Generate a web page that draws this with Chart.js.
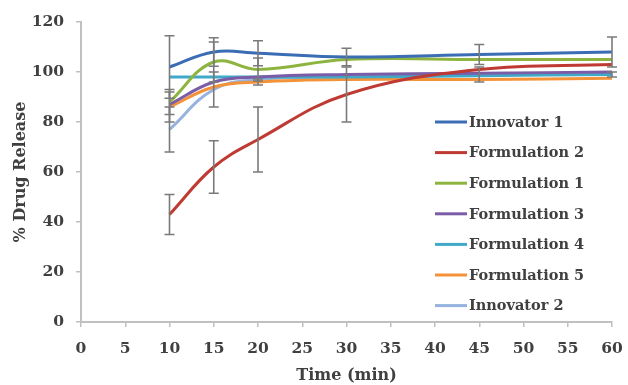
<!DOCTYPE html>
<html>
<head>
<meta charset="utf-8">
<script src="https://cdn.jsdelivr.net/npm/chart.js@4.4.1/dist/chart.umd.min.js"></script>
<style>
  html, body { margin: 0; padding: 0; background: #fff; }
  #wrap { width: 628px; height: 385px; }
</style>
</head>
<body>
<div id="wrap"><canvas id="release" width="628" height="385"></canvas></div>
<script>
// time points (min)
const times = [10, 15, 20, 30, 45, 60];

// % drug release
const innovator1   = [102, 108, 107.5, 106, 107, 108];
const formulation2 = [43, 62, 73, 91, 101, 103];
const formulation1 = [88, 104, 101, 105, 105, 105];
const formulation3 = [87, 96, 98, 99, 99.5, 100];
const formulation4 = [98, 98, 98, 98, 98.5, 99];
const formulation5 = [86, 94, 96, 97, 97, 97.5];
const innovator2   = [77, 93, 97, 98, 99, 99];

// error bars (+/-)
const innovator1Err   = [12.5, 5.7, 5, 3.5, 4, 6];
const formulation2Err = [8, 10.5, 13, 11, 0, 0];
const formulation1Err = [5, 8, 4.6, 0, 0, 0];
const formulation5Err = [6, 0, 1.2, 0, 0, 0];
const innovator2Err   = [9, 7, 0, 0, 3, 1];

const xTicks = [0, 60, 5];
const yTicks = [0, 120, 20];

const textCol = '#404040';
const axisCol = '#c0c0c0';
const tickFont = { family: 'DejaVu Serif', size: 15.5, weight: 'bold' };
const titleFont = { family: 'DejaVu Serif', size: 16, weight: 'bold' };

function series(label, vals, color, errs) {
  return {
    label: label,
    data: vals.map((v, i) => ({ x: times[i], y: v })),
    errors: errs || null,
    borderColor: color,
    backgroundColor: color,
    borderWidth: 3,
    pointRadius: 0,
    tension: 0.4,
    fill: false
  };
}

// draws the vertical error bars with caps
const errorBars = {
  id: 'errorBars',
  afterDatasetsDraw(chart) {
    const ctx = chart.ctx, xs = chart.scales.x, ys = chart.scales.y;
    ctx.save();
    ctx.strokeStyle = '#7a7a7a';
    ctx.lineWidth = 1.6;
    chart.data.datasets.forEach(ds => {
      if (!ds.errors) return;
      ds.data.forEach((p, i) => {
        const e = ds.errors[i];
        if (!e) return;
        const px = xs.getPixelForValue(p.x);
        const top = ys.getPixelForValue(p.y + e);
        const bot = ys.getPixelForValue(p.y - e);
        ctx.beginPath();
        ctx.moveTo(px, top); ctx.lineTo(px, bot);
        ctx.moveTo(px - 5, top); ctx.lineTo(px + 5, top);
        ctx.moveTo(px - 5, bot); ctx.lineTo(px + 5, bot);
        ctx.stroke();
      });
    });
    ctx.restore();
  }
};

// legend box inside the plot, like the original
const insideLegend = {
  id: 'insideLegend',
  afterDraw(chart) {
    const ctx = chart.ctx;
    ctx.save();
    ctx.font = 'bold 14.5px "DejaVu Serif"';
    ctx.textBaseline = 'middle';
    chart.data.datasets.forEach((ds, i) => {
      const y = 122 + i * 30.6;
      ctx.strokeStyle = ds.borderColor;
      ctx.lineWidth = 3;
      ctx.beginPath();
      ctx.moveTo(435, y); ctx.lineTo(467, y);
      ctx.stroke();
      ctx.fillStyle = textCol;
      ctx.fillText(ds.label, 469, y + 1);
    });
    ctx.restore();
  }
};

new Chart(document.getElementById('release'), {
  type: 'line',
  data: {
    datasets: [
      series('Innovator 1', innovator1, '#3b6db5', innovator1Err),
      series('Formulation 2', formulation2, '#bf3a32', formulation2Err),
      series('Formulation 1', formulation1, '#8db43f', formulation1Err),
      series('Formulation 3', formulation3, '#7b5ca6'),
      series('Formulation 4', formulation4, '#3fa9c7'),
      series('Formulation 5', formulation5, '#f39238', formulation5Err),
      series('Innovator 2', innovator2, '#95b3de', innovator2Err)
    ]
  },
  options: {
    responsive: false,
    animation: false,
    layout: { padding: { top: 22, right: 16, left: 0, bottom: 0 } },
    plugins: { legend: { display: false }, tooltip: { enabled: false } },
    scales: {
      x: {
        type: 'linear',
        min: xTicks[0], max: xTicks[1],
        afterFit: s => { s.height = 63; s.paddingLeft = 0; s.paddingRight = 0; },
        ticks: { stepSize: xTicks[2], color: textCol, padding: 13, font: tickFont },
        grid: { drawOnChartArea: false, color: axisCol, tickLength: 5, lineWidth: 1.5 },
        border: { color: axisCol, width: 2 },
        title: { display: true, text: 'Time (min)', color: textCol, padding: { top: 0, bottom: 0 },
                 font: titleFont }
      },
      y: {
        min: yTicks[0], max: yTicks[1],
        afterFit: s => { s.width = 81; },
        ticks: { stepSize: yTicks[2], color: textCol, padding: 12, font: tickFont },
        grid: { drawOnChartArea: false, color: axisCol, tickLength: 5, lineWidth: 1.5 },
        border: { color: axisCol, width: 2 },
        title: { display: true, text: '% Drug Release', color: textCol, padding: { top: 11, bottom: 0 },
                 font: titleFont }
      }
    }
  },
  plugins: [errorBars, insideLegend]
});
</script>
</body>
</html>
